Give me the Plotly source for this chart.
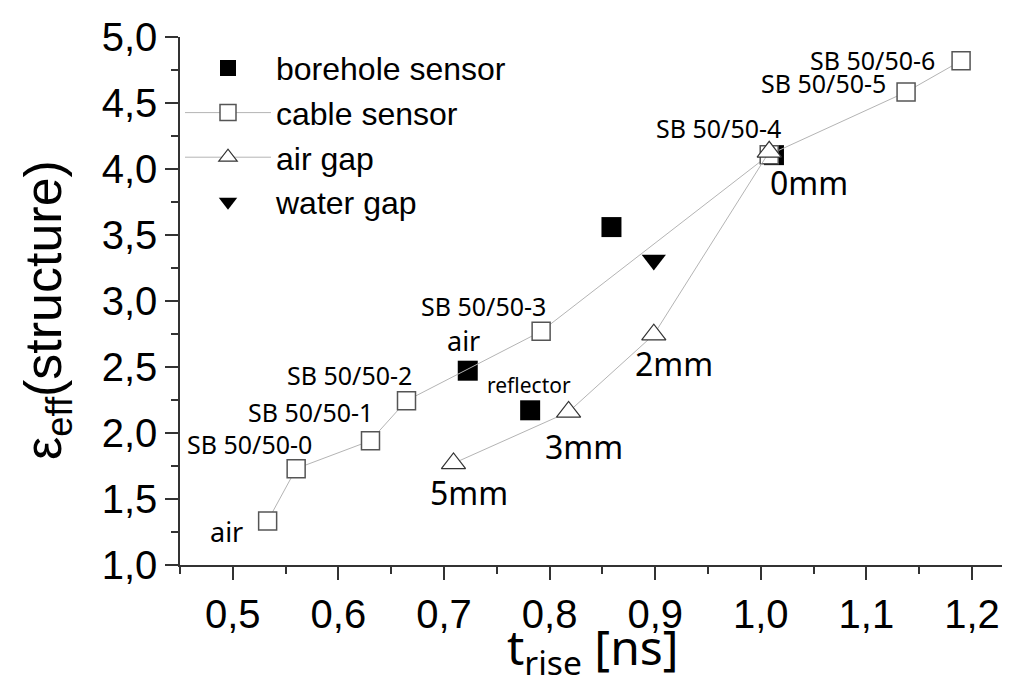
import plotly.graph_objects as go

# ---- data ----
bore_x = [0.7225, 0.7816, 0.8586, 1.0125]
bore_y = [2.472, 2.172, 3.56, 4.105]

cable_x = [0.533, 0.560, 0.6304, 0.6645, 0.792, 1.008, 1.1376, 1.1897]
cable_y = [1.333, 1.73, 1.942, 2.245, 2.77, 4.108, 4.583, 4.82]

airgap_x = [0.709, 0.818, 0.8987, 1.008]
airgap_y = [1.77, 2.16, 2.745, 4.13]

water_x = [0.8987]
water_y = [3.31]

sb_labels = ["SB 50/50-0", "SB 50/50-1", "SB 50/50-2", "SB 50/50-3",
             "SB 50/50-4", "SB 50/50-5", "SB 50/50-6"]
sb_label_x = [0.5156, 0.5734, 0.6103, 0.7372, 0.9602, 1.0592, 1.1056]
sb_label_y = [1.913, 2.159, 2.443, 2.962, 4.311, 4.652, 4.826]

gap_labels = ["0mm", "2mm", "3mm", "5mm"]
gap_label_x = [1.0459, 0.918, 0.8329, 0.7235]
gap_label_y = [3.90, 2.523, 1.894, 1.553]

other_labels = ["air", "air", "reflector"]
other_label_x = [0.4943, 0.7183, 0.7803]
other_label_y = [1.254, 2.70, 2.364]
other_label_size = [27, 27, 21]

x_range = [0.45, 1.2436]
y_range = [1.0, 5.0]

# ---- figure ----
LINE_GREY = "#b4b4b4"
AX = "#333333"
ARIAL = "Liberation Sans, Arial, sans-serif"
MYR = "Noto Sans, Open Sans, sans-serif"

fig = go.Figure()

fig.add_trace(go.Scatter(
    x=bore_x, y=bore_y, mode="markers", name="borehole sensor",
    marker=dict(symbol="square", size=20, color="black", line=dict(width=0)),
))
fig.add_trace(go.Scatter(
    x=cable_x, y=cable_y, mode="lines+markers", name="cable sensor",
    line=dict(color=LINE_GREY, width=1),
    marker=dict(symbol="square", size=18, color="white",
                line=dict(color="#555555", width=1.5)),
))
fig.add_trace(go.Scatter(
    x=airgap_x, y=airgap_y, mode="lines+markers", name="air gap",
    line=dict(color=LINE_GREY, width=1),
    marker=dict(symbol="triangle-up", size=21, color="white",
                line=dict(color="#333333", width=1.2)),
))
fig.add_trace(go.Scatter(
    x=water_x, y=water_y, mode="markers", name="water gap",
    marker=dict(symbol="triangle-down", size=21, color="black", line=dict(width=0)),
))

annotations = []
for t, x, y in zip(sb_labels, sb_label_x, sb_label_y):
    annotations.append(dict(x=x, y=y, xref="x", yref="y", text=t, showarrow=False,
                            xanchor="center", yanchor="middle",
                            font=dict(family=MYR, size=25, color="black")))
for t, x, y in zip(gap_labels, gap_label_x, gap_label_y):
    annotations.append(dict(x=x, y=y, xref="x", yref="y", text=t, showarrow=False,
                            xanchor="center", yanchor="middle",
                            font=dict(family=MYR, size=32, color="black")))
for t, x, y, s in zip(other_labels, other_label_x, other_label_y, other_label_size):
    annotations.append(dict(x=x, y=y, xref="x", yref="y", text=t, showarrow=False,
                            xanchor="center", yanchor="middle",
                            font=dict(family=MYR, size=s, color="black")))

# axis titles
annotations.append(dict(x=0.5, y=0, xref="paper", yref="paper",
                        text="t<sub>rise</sub> [ns]", showarrow=False,
                        xanchor="center", yanchor="middle", xshift=-6, yshift=-84,
                        font=dict(family=MYR, size=48, color="black")))
annotations.append(dict(x=0, y=0.5, xref="paper", yref="paper",
                        text="\u03b5<sub>eff</sub>(structure)", showarrow=False,
                        textangle=-90, xanchor="center", yanchor="middle",
                        xshift=-133, yshift=-9,
                        font=dict(family=ARIAL, size=52, color="black")))

common_ax = dict(showgrid=False, zeroline=False, linecolor=AX, linewidth=1.5,
                 tickcolor=AX, tickwidth=1.5)

fig.update_layout(
    width=1010, height=686,
    margin=dict(l=172, r=0, t=29, b=129),
    paper_bgcolor="white", plot_bgcolor="white",
    separators=",.",
    showlegend=True,
    legend=dict(x=0.0, y=0.993, xanchor="left", yanchor="top",
                bgcolor="rgba(0,0,0,0)", font=dict(family=ARIAL, size=32, color="black"),
                itemwidth=86, tracegroupgap=0),
    annotations=annotations,
    xaxis=dict(range=x_range, tick0=0.5, dtick=0.1, tickformat=".1f",
               ticks="outside", ticklen=13, showline=True,
               minor=dict(dtick=0.05, ticks="outside", ticklen=7, tickcolor=AX, tickwidth=1.5),
               tickfont=dict(family=ARIAL, size=40, color="black"), **common_ax),
    yaxis=dict(range=y_range, tick0=1.0, dtick=0.5, tickformat=".1f",
               ticks="outside", ticklen=13, showline=True,
               minor=dict(dtick=0.25, ticks="outside", ticklen=7, tickcolor=AX, tickwidth=1.5),
               tickfont=dict(family=ARIAL, size=40, color="black"), **common_ax),
    xaxis2=dict(range=x_range, overlaying="x", side="top", anchor="y", matches="x",
                tick0=0.5, dtick=0.1, ticks="inside", ticklen=12, showline=True,
                showticklabels=False,
                minor=dict(dtick=0.05, ticks="inside", ticklen=7, tickcolor=AX, tickwidth=1.5),
                **common_ax),
    yaxis2=dict(range=y_range, overlaying="y", side="right", anchor="x", matches="y",
                tick0=1.0, dtick=0.5, ticks="inside", ticklen=7, showline=False,
                showticklabels=False,
                minor=dict(dtick=0.25, ticks="inside", ticklen=2, tickcolor=AX, tickwidth=1.5),
                **common_ax),
)

fig.write_html("out.html")
